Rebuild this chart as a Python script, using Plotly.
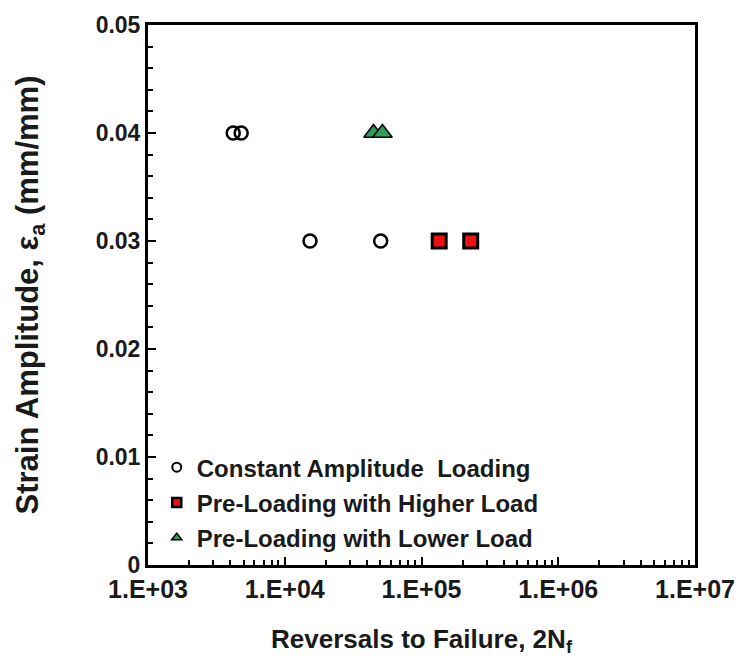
import plotly.graph_objects as go

# Fatigue test results: reversals to failure vs. strain amplitude
const_reversals = [4200, 4800, 15300, 50300]
const_strain = [0.04, 0.04, 0.03, 0.03]

higher_reversals = [134700, 229000]
higher_strain = [0.03, 0.03]

lower_reversals = [44600, 51800]
lower_strain = [0.04, 0.04]

x_tickvals = [1e3, 1e4, 1e5, 1e6, 1e7]
x_ticktext = ["1.E+03", "1.E+04", "1.E+05", "1.E+06", "1.E+07"]
y_tickvals = [0, 0.01, 0.02, 0.03, 0.04, 0.05]
y_ticktext = ["0", "0.01", "0.02", "0.03", "0.04", "0.05"]

FONT = "Liberation Sans, Arial, sans-serif"
INK = "#1a1a1a"
RED = "#ee1111"
GREEN = "#2e9e5a"

fig = go.Figure()

# data traces
fig.add_trace(go.Scatter(
    x=const_reversals, y=const_strain, mode="markers", showlegend=False,
    marker=dict(symbol="circle-open", size=13, color="black", line=dict(width=2.5, color="black")),
))
fig.add_trace(go.Scatter(
    x=higher_reversals, y=higher_strain, mode="markers", showlegend=False,
    marker=dict(symbol="square", size=14, color=RED, line=dict(width=3, color="black")),
))
fig.add_trace(go.Scatter(
    x=lower_reversals, y=lower_strain, mode="markers", showlegend=False,
    marker=dict(symbol="triangle-up", size=17, color=GREEN, line=dict(width=1.5, color="black")),
))

# legend entries with smaller symbols
fig.add_trace(go.Scatter(
    x=[None], y=[None], mode="markers", name="<b>Constant Amplitude  Loading</b>", legendgroup="a",
    marker=dict(symbol="circle-open", size=9, color="black", line=dict(width=2, color="black")),
))
fig.add_trace(go.Scatter(
    x=[None], y=[None], mode="markers", name="<b>Pre-Loading with Higher Load</b>", legendgroup="b",
    marker=dict(symbol="square", size=9, color=RED, line=dict(width=2.5, color="black")),
))
fig.add_trace(go.Scatter(
    x=[None], y=[None], mode="markers", name="<b>Pre-Loading with Lower Load</b>", legendgroup="c",
    marker=dict(symbol="triangle-up", size=9, color=GREEN, line=dict(width=1.5, color="black")),
))

x_minor = [m * 10 ** e for e in range(3, 7) for m in range(2, 10)]

fig.update_layout(
    width=747, height=668,
    margin=dict(l=148, r=46, t=17, b=103),
    paper_bgcolor="white", plot_bgcolor="white",
    font=dict(family=FONT, size=22, color=INK),
    legend=dict(
        x=0.016, y=0.222, xanchor="left", yanchor="top",
        bgcolor="rgba(0,0,0,0)", font=dict(family=FONT, size=24, color=INK),
        tracegroupgap=1, traceorder="grouped",
    ),
    xaxis=dict(
        type="log", range=[3, 7],
        tickvals=x_tickvals, ticktext=["<b>%s</b>" % t for t in x_ticktext],
        tickfont=dict(family=FONT, size=25, color=INK),
        ticks="inside", ticklen=8, tickwidth=2, tickcolor="black",
        minor=dict(tickvals=x_minor, ticks="inside", ticklen=5, tickwidth=1.5, tickcolor="black", showgrid=False),
        showline=True, linewidth=3, linecolor="black", mirror=True,
        showgrid=False, zeroline=False,
        title=dict(text="<b>Reversals to Failure, 2N<sub>f</sub></b>", font=dict(family=FONT, size=26, color=INK), standoff=28),
    ),
    yaxis=dict(
        range=[0, 0.05],
        tickvals=y_tickvals, ticktext=["<b>%s</b>" % t for t in y_ticktext],
        tickfont=dict(family=FONT, size=23, color=INK),
        ticks="inside", ticklen=8, tickwidth=2, tickcolor="black",
        minor=dict(dtick=0.002, ticks="inside", ticklen=5, tickwidth=1.5, tickcolor="black", showgrid=False),
        showline=True, linewidth=3, linecolor="black", mirror=True,
        showgrid=False, zeroline=False,
        title=dict(text="<b>Strain Amplitude, ε<sub>a</sub> (mm/mm)</b>", font=dict(family=FONT, size=31, color=INK), standoff=48),
    ),
)

fig.write_html("out.html")
